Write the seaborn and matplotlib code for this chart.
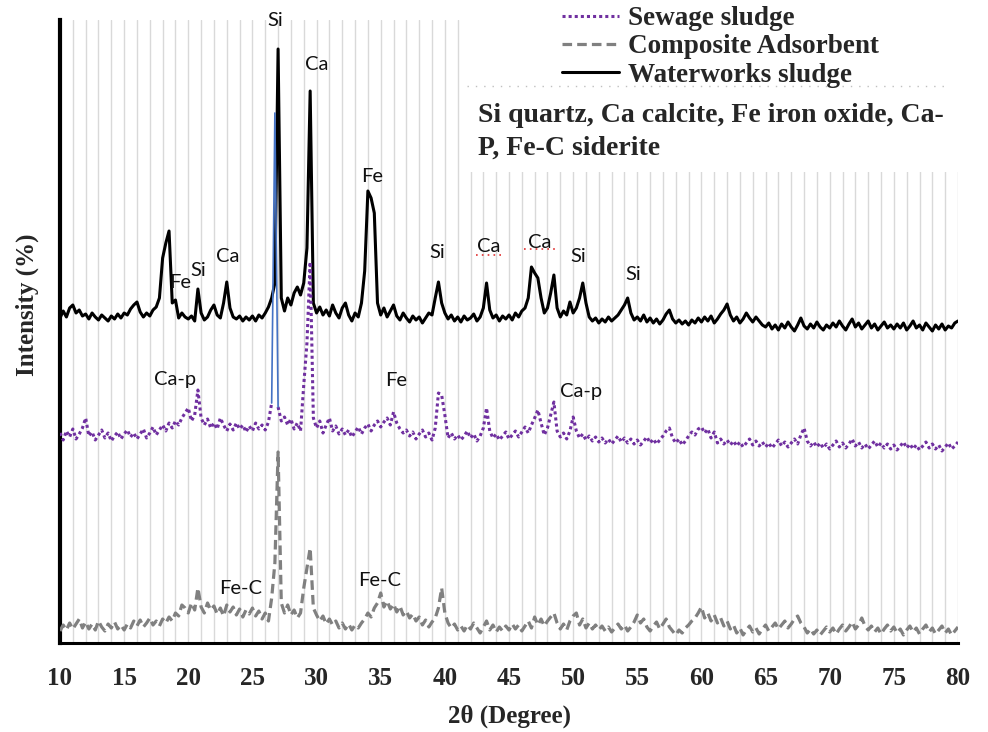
import numpy as np
import pandas as pd
import matplotlib
matplotlib.use("Agg")
import matplotlib.pyplot as plt
import seaborn as sns
from matplotlib.lines import Line2D
from matplotlib.patches import Rectangle

# ---------------- data ----------------
two_theta = np.round(np.arange(10, 80.001, 0.25), 2)

# Waterworks sludge (offset trace, arbitrary intensity units); rows = 5 degrees each
waterworks = [
    325, 332, 326, 335, 338, 330, 333, 327, 329, 324, 330, 326, 323, 328, 325, 322, 327, 324, 329, 325,  # 10
    330, 328, 334, 338, 341, 331, 326, 330, 327, 333, 336, 345, 385, 400, 412, 340, 343, 325, 330, 326,  # 15
    324, 327, 322, 354, 330, 323, 326, 333, 338, 328, 325, 340, 361, 335, 326, 324, 327, 322, 326, 323,  # 20
    327, 322, 328, 325, 330, 336, 345, 360, 594, 345, 332, 345, 338, 350, 356, 348, 360, 395, 552, 340,  # 25
    330, 336, 328, 333, 327, 338, 330, 325, 335, 340, 328, 322, 330, 326, 340, 372, 452, 445, 430, 340,  # 30
    328, 335, 326, 332, 338, 327, 323, 330, 325, 321, 327, 323, 326, 320, 325, 330, 328, 345, 361, 340,  # 35
    330, 324, 328, 322, 326, 321, 327, 323, 325, 329, 322, 326, 335, 360, 333, 325, 328, 322, 327, 324,  # 40
    328, 323, 330, 326, 332, 335, 345, 376, 370, 365, 345, 330, 335, 350, 368, 335, 326, 332, 328, 341,  # 45
    330, 335, 345, 360, 340, 326, 322, 325, 320, 324, 321, 326, 322, 325, 328, 333, 338, 345, 330, 323,  # 50
    326, 322, 328, 321, 325, 320, 324, 319, 323, 329, 333, 324, 320, 323, 319, 322, 318, 323, 320, 325,  # 55
    321, 326, 322, 327, 320, 324, 329, 333, 339, 328, 322, 326, 320, 324, 330, 325, 321, 326, 322, 318,  # 60
    316, 320, 314, 318, 313, 319, 315, 321, 316, 312, 318, 325, 317, 314, 319, 315, 321, 316, 313, 318,  # 65
    315, 320, 316, 322, 317, 313, 319, 324, 316, 320, 314, 318, 322, 315, 319, 313, 317, 321, 315, 318,  # 70
    314, 319, 315, 320, 313, 317, 322, 315, 318, 313, 320, 316, 312, 318, 314, 319, 313, 317, 315, 320,  # 75
    322,
]

sewage = [
    210, 203, 212, 206, 214, 204, 209, 215, 225, 207, 211, 203, 208, 213, 205, 210, 202, 207, 211, 204,  # 10
    209, 213, 206, 210, 204, 209, 214, 205, 210, 216, 208, 213, 218, 212, 220, 215, 222, 218, 225, 230,  # 15
    235, 222, 228, 253, 225, 218, 224, 215, 220, 214, 225, 218, 212, 219, 213, 220, 214, 218, 211, 217,  # 20
    212, 220, 214, 218, 213, 221, 240, 530, 236, 222, 226, 218, 224, 214, 220, 212, 258, 300, 381, 225,  # 25
    215, 222, 210, 218, 225, 212, 217, 209, 214, 208, 213, 206, 211, 216, 209, 215, 219, 212, 218, 222,  # 30
    216, 221, 225, 218, 231, 220, 214, 210, 213, 207, 211, 204, 209, 213, 206, 210, 203, 215, 250, 248,  # 35
    228, 205, 210, 204, 208, 203, 207, 212, 205, 209, 202, 207, 215, 235, 212, 205, 209, 203, 207, 211,  # 40
    204, 208, 212, 206, 211, 216, 210, 218, 225, 233, 220, 208, 215, 228, 241, 212, 206, 210, 204, 212,  # 45
    226, 212, 205, 209, 203, 207, 202, 206, 201, 205, 200, 204, 199, 203, 207, 201, 205, 200, 204, 199,  # 50
    203, 198, 202, 206, 200, 204, 199, 203, 207, 212, 215, 205, 200, 204, 198, 202, 207, 211, 208, 214,  # 55
    216, 210, 214, 205, 211, 200, 204, 199, 203, 198, 202, 197, 201, 196, 200, 204, 198, 202, 197, 201,  # 60
    196, 200, 195, 199, 203, 197, 201, 196, 200, 204, 199, 208, 215, 202, 197, 201, 196, 200, 195, 199,  # 65
    194, 198, 202, 196, 200, 195, 199, 204, 197, 201, 195, 199, 194, 198, 202, 196, 200, 195, 199, 194,  # 70
    198, 193, 197, 201, 195, 199, 194, 198, 193, 197, 201, 195, 199, 194, 198, 192, 196, 200, 194, 197,  # 75
    201,
]

composite = [
    12, 18, 13, 20, 14, 19, 24, 15, 21, 14, 19, 13, 22, 16, 12, 19, 15, 21, 14, 18,  # 10
    13, 19, 15, 22, 17, 23, 16, 20, 25, 18, 22, 17, 24, 20, 26, 22, 30, 27, 38, 35,  # 15
    30, 40, 33, 55, 36, 30, 40, 33, 37, 29, 35, 27, 38, 31, 36, 28, 34, 26, 33, 29,  # 20
    35, 27, 32, 24, 30, 22, 45, 80, 191, 40, 30, 38, 28, 33, 25, 30, 55, 75, 95, 35,  # 25
    28, 22, 27, 19, 24, 18, 22, 15, 20, 14, 19, 13, 18, 15, 20, 24, 30, 26, 35, 40,  # 30
    50, 36, 42, 34, 39, 31, 37, 28, 32, 25, 29, 22, 26, 18, 23, 16, 21, 25, 35, 55,  # 35
    30, 20, 15, 19, 13, 17, 12, 18, 14, 20, 15, 10, 16, 22, 13, 18, 11, 16, 12, 17,  # 40
    13, 19, 14, 18, 12, 17, 22, 15, 26, 18, 24, 17, 22, 26, 30, 20, 14, 19, 13, 22,  # 45
    27, 30, 18, 24, 15, 20, 14, 18, 13, 17, 12, 16, 11, 15, 19, 14, 18, 12, 16, 21,  # 50
    28, 20, 24, 16, 12, 17, 21, 14, 19, 24, 16, 12, 8, 13, 10, 15, 18, 22, 25, 30,  # 55
    36, 25, 30, 22, 28, 20, 25, 17, 22, 14, 18, 10, 15, 8, 13, 17, 11, 15, 9, 14,  # 60
    18, 12, 16, 20, 14, 18, 22, 15, 19, 24, 27, 20, 16, 10, 14, 9, 13, 8, 12, 16,  # 65
    11, 15, 9, 14, 18, 12, 16, 21, 14, 18, 25, 17, 13, 17, 11, 15, 9, 14, 18, 12,  # 70
    16, 10, 14, 8, 13, 17, 11, 15, 9, 14, 18, 11, 15, 9, 13, 17, 10, 14, 8, 12,  # 75
    16,
]

series_names = ["Sewage sludge", "Composite Adsorbent", "Waterworks sludge"]
x_ticks = [10, 15, 20, 25, 30, 35, 40, 45, 50, 55, 60, 65, 70, 75, 80]
x_tick_labels = [str(t) for t in x_ticks]

# peak labels: (text, 2theta, intensity)
peak_labels = [
    ("Si", 26.75, 623), ("Ca", 30.0, 578), ("Fe", 34.3, 467),
    ("Fe", 19.35, 361), ("Si", 20.75, 373), ("Ca", 23.1, 387),
    ("Si", 39.4, 390), ("Ca", 43.4, 396), ("Ca", 47.4, 400),
    ("Si", 50.4, 386), ("Si", 54.7, 369),
    ("Ca-p", 19.0, 263), ("Fe", 36.2, 262), ("Ca-p", 50.6, 251),
    ("Fe-C", 24.1, 54), ("Fe-C", 34.9, 63),
]

# ---------------- style ----------------
sns.set_style("white")
plt.rcParams["font.family"] = ["Liberation Serif", "DejaVu Serif"]

W, H = 988, 732
fig = plt.figure(figsize=(W / 100, H / 100), dpi=100)
ax = fig.add_axes([60 / W, 89 / H, 898 / W, 623 / H])

df = pd.DataFrame({
    "two_theta": two_theta,
    "Waterworks sludge": waterworks,
    "Sewage sludge": sewage,
    "Composite Adsorbent": composite,
})

purple = "#7030A0"
grey = "#808080"
blue = "#4472C4"

sns.lineplot(data=df, x="two_theta", y="Composite Adsorbent", ax=ax, color=grey,
             lw=2.3, linestyle=(0, (3, 1.6)), estimator=None, zorder=3)
sns.lineplot(data=df, x="two_theta", y="Waterworks sludge", ax=ax, color="black",
             lw=2.2, estimator=None, zorder=4)
seg_a = df[df["two_theta"] <= 26.5]
seg_b = df[df["two_theta"] >= 27.0]
seg_c = df[(df["two_theta"] >= 26.5) & (df["two_theta"] <= 27.0)]
for seg in (seg_a, seg_b):
    sns.lineplot(data=seg, x="two_theta", y="Sewage sludge", ax=ax, color=purple,
                 lw=2.2, linestyle=(0, (1, 1)), estimator=None, zorder=5)
sns.lineplot(data=seg_c, x="two_theta", y="Sewage sludge", ax=ax, color=blue,
             lw=1.2, estimator=None, zorder=5)

ax.set_xlim(10, 80)
ax.set_ylim(0, 623)
ax.set_xticks(x_ticks)
ax.set_xticklabels(x_tick_labels)
ax.set_xticks(np.arange(10, 81, 1), minor=True)
ax.set_yticks([])
ax.grid(True, which="both", axis="x", color="#d9d9d9", lw=1.0)
ax.grid(False, axis="y")
ax.set_axisbelow(True)
ax.tick_params(axis="x", which="major", direction="out", length=7.5, width=2,
               color="black", pad=10, labelsize=18)
ax.tick_params(axis="x", which="minor", length=0)
for lab in ax.get_xticklabels():
    lab.set_fontweight("bold")

for s in ("top", "right"):
    ax.spines[s].set_visible(False)
ax.spines["left"].set_linewidth(3)
ax.spines["left"].set_color("black")
ax.spines["bottom"].set_linewidth(2.2)
ax.spines["bottom"].set_color("black")

ax.set_xlabel("2θ (Degree)", fontsize=18, fontweight="bold")
ax.xaxis.set_label_coords(0.501, (643 - 716) / 623)
ax.xaxis.label.set_va("center")
ax.set_ylabel("Intensity (%)", fontsize=18, fontweight="bold")
ax.yaxis.set_label_coords((27 - 60) / 898, (643 - 305) / 623)
ax.yaxis.label.set_va("center")
ax.yaxis.label.set_ha("center")

for txt, xv, yv in peak_labels:
    ax.text(xv, yv, txt, ha="center", va="center", fontsize=14.5,
            family=["Lato", "DejaVu Sans"], color="#111111", zorder=6, clip_on=False)

# small red dotted underlines (from the source)
ax.plot([42.4, 44.5], [388, 388], color="#e03030", lw=1.2, linestyle=(0, (1, 2.5)), zorder=6)
ax.plot([46.2, 48.6], [394, 394], color="#e03030", lw=1.2, linestyle=(0, (1, 2.5)), zorder=6)

# white box behind legend and annotation
rect = Rectangle((462 / W, 1 - 172 / H), (960 - 462) / W, 172 / H,
                 transform=fig.transFigure, facecolor="white", edgecolor="none", zorder=1)
fig.add_artist(rect)
sep = Line2D([467 / W, 946 / W], [1 - 86 / H, 1 - 86 / H], transform=fig.transFigure,
             color="#c0c0c0", lw=1.0, linestyle=(0, (1, 5)), zorder=2)
fig.add_artist(sep)

handles = [
    Line2D([], [], color=purple, lw=2.2, linestyle=(0, (1, 1))),
    Line2D([], [], color=grey, lw=2.3, linestyle=(0, (3, 1.6))),
    Line2D([], [], color="black", lw=2.2),
]
leg = fig.legend(handles, series_names, loc="upper left",
                 bbox_to_anchor=(562 / W, 1 - 6 / H), frameon=False,
                 prop={"family": "Liberation Serif", "weight": "bold", "size": 19.5},
                 handlelength=2.1, handletextpad=0.35, labelspacing=0.12,
                 borderaxespad=0, borderpad=0)
leg.set_zorder(3)

fig.text(478 / W, 1 - 122 / H, "Si quartz, Ca calcite, Fe iron oxide, Ca-",
         fontsize=20, fontweight="bold", va="baseline", ha="left", zorder=3)
fig.text(478 / W, 1 - 155 / H, "P, Fe-C siderite",
         fontsize=20, fontweight="bold", va="baseline", ha="left", zorder=3)

fig.savefig("out.png", dpi=100)
